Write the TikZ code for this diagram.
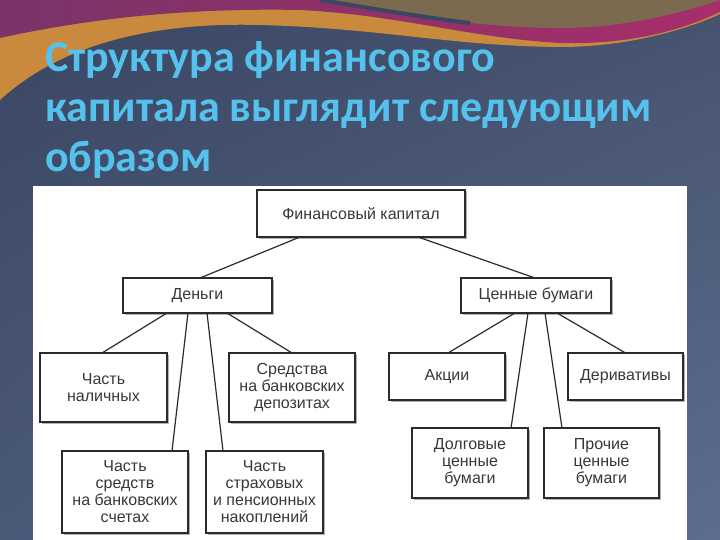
\documentclass[tikz,border=0pt]{standalone}
\usepackage{fontspec}
\setmainfont{Liberation Sans}
\newfontfamily\titlefont{Carlito}
\usepackage{xcolor}
\usetikzlibrary{positioning, shadows, shadings}

\definecolor{bgA}{HTML}{3A4662}
\definecolor{bgB}{HTML}{46536F}
\definecolor{bgC}{HTML}{4B5979}
\definecolor{bgD}{HTML}{5D6D90}
\definecolor{bandorange}{HTML}{C98A3E}
\definecolor{bandpurple}{HTML}{7A3468}
\definecolor{bandmagenta}{HTML}{A72E6A}
\definecolor{bandolive}{HTML}{7B6A4F}
\definecolor{titleblue}{HTML}{55C2EE}
\definecolor{boxline}{HTML}{2B2B2B}
\definecolor{boxtext}{HTML}{383838}

\begin{document}
\begin{tikzpicture}[
    x=1pt, y=-1pt,
    box/.style={rectangle, draw=boxline, line width=1.3pt, fill=white,
                inner sep=0pt, outer sep=0pt, align=center, text=boxtext,
                font=\fontsize{16}{17}\selectfont,
                drop shadow={shadow xshift=1.5pt, shadow yshift=-1.5pt,
                             fill=gray!60, opacity=1}},
    link/.style={draw=boxline, line width=1.2pt},
    titletext/.style={text=titleblue, inner sep=0pt,
                      font=\titlefont\bfseries\fontsize{44}{50}\selectfont},
]
\useasboundingbox (0,0) rectangle (720,540);

% Background and top band
\shade[upper left=bgA, upper right=bgB, lower left=bgC, lower right=bgD]
    (0,0) rectangle (720,540);
\fill[bandorange] (0,0) -- (0,100) .. controls (60,45) and (150,22) .. (260,25)
    .. controls (380,28) and (450,46) .. (560,47)
    .. controls (630,47) and (690,28) .. (720,14) -- (720,0) -- cycle;
\shade[left color=bandpurple, right color=bandmagenta]
    (0,0) -- (0,38) .. controls (100,16) and (200,8) .. (300,10)
    .. controls (400,15) and (470,38) .. (560,43)
    .. controls (640,45) and (690,26) .. (720,12) -- (720,0) -- cycle;
\fill[bandolive] (320,0) .. controls (400,14) and (480,28) .. (560,28)
    .. controls (630,28) and (690,10) .. (720,0) -- cycle;
\draw[bgA, line width=4pt] (320,0) .. controls (370,8) and (420,17) .. (470,23);

% Title
\foreach \yy/\txt in {72/Структура финансового,
                      122/капитала выглядит следующим,
                      172/образом} {
  \node[titletext, anchor=base west] (tl\yy) at (45,\yy) {\txt};
}

% White panel
\fill[white] (33,186) rectangle (687,540);

% Top level
\node[box, minimum width=208pt, minimum height=47pt] (fin) at (361,213.5)
    {Финансовый капитал};

% Second level
\node[box, minimum width=149pt, minimum height=35pt] (money) at (197.5,295.5)
    {Деньги};
\node[box, minimum width=150pt, minimum height=35pt] (sec) at (536,295.5)
    {Ценные бумаги};

% Money branch
\node[box, minimum width=127pt, minimum height=69pt] (cash) at (103.5,387.5)
    {Часть\\наличных};
\node[box, minimum width=126pt, minimum height=69pt] (depo) at (292,387.5)
    {Средства\\на банковских\\депозитах};
\node[box, minimum width=126pt, minimum height=82pt] (acc) at (125,492)
    {Часть\\средств\\на банковских\\счетах};
\node[box, minimum width=117pt, minimum height=82pt] (insur) at (264.5,492)
    {Часть\\страховых\\и пенсионных\\накоплений};

% Securities branch
\node[box, minimum width=116pt, minimum height=47pt] (shares) at (447,376.5)
    {Акции};
\node[box, minimum width=115pt, minimum height=47pt] (deriv) at (625.5,376.5)
    {Деривативы};
\node[box, minimum width=116pt, minimum height=70pt] (debt) at (470,463)
    {Долговые\\ценные\\бумаги};
\node[box, minimum width=115pt, minimum height=70pt] (other) at (601.5,463)
    {Прочие\\ценные\\бумаги};

% Links
\draw[link] ([xshift=-61pt]fin.south) -- ([xshift=2.5pt]money.north);
\draw[link] ([xshift=57pt]fin.south) -- ([xshift=-1pt]sec.north);

\draw[link] ([xshift=-30.5pt]money.south) -- ([xshift=-1.5pt]cash.north);
\draw[link] ([xshift=29.5pt]money.south) -- (depo.north);
\draw[link] ([xshift=-9.5pt]money.south) -- ([xshift=47pt]acc.north);
\draw[link] ([xshift=9.5pt]money.south) -- ([xshift=-41.5pt]insur.north);

\draw[link] ([xshift=-21pt]sec.south) -- ([xshift=1pt]shares.north);
\draw[link] ([xshift=21pt]sec.south) -- (deriv.north);
\draw[link] ([xshift=-8pt]sec.south) -- ([xshift=41pt]debt.north);
\draw[link] ([xshift=9pt]sec.south) -- ([xshift=-39.5pt]other.north);

\end{tikzpicture}
\end{document}
